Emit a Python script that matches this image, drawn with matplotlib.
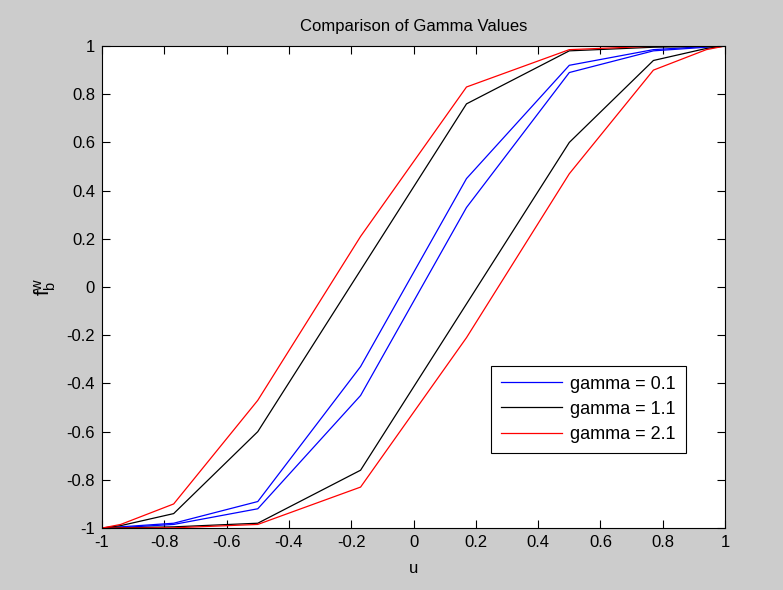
import numpy as np
import matplotlib.pyplot as plt

plt.rcParams['font.family'] = ['Liberation Sans', 'DejaVu Sans']
plt.rcParams['mathtext.default'] = 'regular'

u = [-1, -0.94, -0.77, -0.5, -0.17, 0.17, 0.5, 0.77, 0.94, 1]

# upper (left) and lower (right) branches for each gamma
up_01 = [-1, -0.995, -0.98, -0.89, -0.33, 0.45, 0.92, 0.985, 0.998, 1]
lo_01 = [-1, -0.998, -0.985, -0.92, -0.45, 0.33, 0.89, 0.98, 0.995, 1]
up_11 = [-1, -0.99, -0.94, -0.60, 0.07, 0.76, 0.98, 0.995, 0.999, 1]
lo_11 = [-1, -0.999, -0.995, -0.98, -0.76, -0.07, 0.60, 0.94, 0.99, 1]
up_21 = [-1, -0.985, -0.90, -0.47, 0.21, 0.83, 0.985, 0.999, 1, 1]
lo_21 = [-1, -1, -0.999, -0.985, -0.83, -0.21, 0.47, 0.90, 0.985, 1]

labels = ['gamma = 0.1', 'gamma = 1.1', 'gamma = 2.1']
colors = ['#0000ff', '#000000', '#ff0000']
branches = [(up_01, lo_01), (up_11, lo_11), (up_21, lo_21)]

fig = plt.figure(figsize=(7.83, 5.9), dpi=100, facecolor='#cccccc')
ax = fig.add_axes([0.1303, 0.105, 0.7957, 0.817])
ax.set_facecolor('white')

for (up, lo), c, lab in zip(branches, colors, labels):
    ax.plot(u, up, color=c, lw=0.9, label=lab)
    ax.plot(u, lo, color=c, lw=0.9)

ax.set_xlim(-1, 1)
ax.set_ylim(-1, 1)
ticks = np.round(np.arange(-1, 1.01, 0.2), 1)
tick_labels = ['-1', '-0.8', '-0.6', '-0.4', '-0.2', '0', '0.2', '0.4', '0.6', '0.8', '1']
ax.set_xticks(ticks)
ax.set_xticklabels(tick_labels)
ax.set_yticks(ticks)
ax.set_yticklabels(tick_labels)
ax.tick_params(direction='in', top=True, right=True, length=6, width=0.8,
               labelsize=12, pad=5)
for s in ax.spines.values():
    s.set_linewidth(0.8)

ax.set_title('Comparison of Gamma Values', fontsize=12, pad=11)
ax.set_xlabel('u', fontsize=12, labelpad=8)
ax.set_ylabel('$f_b^w$', fontsize=15, labelpad=6)

leg = ax.legend(loc='lower left', bbox_to_anchor=(0.624, 0.156), borderaxespad=0,
                fancybox=False, edgecolor='black', framealpha=1, fontsize=13,
                handlelength=3.4, handletextpad=0.45, labelspacing=0.45,
                borderpad=0.55)
leg.get_frame().set_linewidth(0.8)

fig.savefig('out.png', dpi=100, facecolor=fig.get_facecolor())
